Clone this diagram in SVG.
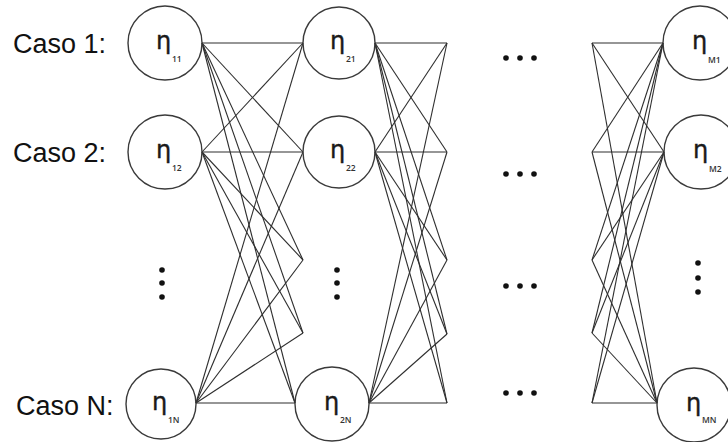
<svg xmlns="http://www.w3.org/2000/svg" width="728" height="442" viewBox="0 0 728 442">
<style>
.node{fill:none;stroke:#3a3a3a;stroke-width:1.4}
.eta{font-family:"DejaVu Sans",sans-serif;font-size:24px;fill:#1a1a1a;stroke:#1a1a1a;stroke-width:0.4}
.sub{font-family:"Open Sans","DejaVu Sans",sans-serif;font-size:8.5px;font-weight:600;fill:#333}
.lbl{font-family:"Liberation Sans",Arial,sans-serif;font-size:27px;fill:#111}
.conn line{stroke:#2e2e2e;stroke-width:1.1}
.dot{fill:#111}
</style>
<rect width="728" height="442" fill="#ffffff"/>
<g id="labels">
<text class="lbl" x="13" y="53">Caso 1:</text>
<text class="lbl" x="13" y="162">Caso 2:</text>
<text class="lbl" x="16" y="415">Caso N:</text>
</g>
<g class="conn" id="connectors">
<line x1="202" y1="43" x2="303" y2="43"/>
<line x1="202" y1="43" x2="303" y2="152"/>
<line x1="202" y1="43" x2="303" y2="260"/>
<line x1="202" y1="43" x2="303" y2="333"/>
<line x1="202" y1="43" x2="295" y2="403"/>
<line x1="202" y1="152" x2="303" y2="43"/>
<line x1="202" y1="152" x2="303" y2="152"/>
<line x1="202" y1="152" x2="303" y2="260"/>
<line x1="202" y1="152" x2="303" y2="333"/>
<line x1="202" y1="152" x2="295" y2="403"/>
<line x1="196" y1="403" x2="303" y2="43"/>
<line x1="196" y1="403" x2="303" y2="152"/>
<line x1="196" y1="403" x2="303" y2="260"/>
<line x1="196" y1="403" x2="303" y2="333"/>
<line x1="196" y1="403" x2="295" y2="403"/>
<line x1="375" y1="43" x2="447" y2="43"/>
<line x1="375" y1="43" x2="447" y2="152"/>
<line x1="375" y1="43" x2="447" y2="260"/>
<line x1="375" y1="43" x2="447" y2="334"/>
<line x1="375" y1="43" x2="447" y2="403"/>
<line x1="375" y1="152" x2="447" y2="43"/>
<line x1="375" y1="152" x2="447" y2="152"/>
<line x1="375" y1="152" x2="447" y2="260"/>
<line x1="375" y1="152" x2="447" y2="334"/>
<line x1="375" y1="152" x2="447" y2="403"/>
<line x1="369" y1="403" x2="447" y2="43"/>
<line x1="369" y1="403" x2="447" y2="152"/>
<line x1="369" y1="403" x2="447" y2="260"/>
<line x1="369" y1="403" x2="447" y2="334"/>
<line x1="369" y1="403" x2="447" y2="403"/>
<line x1="592" y1="43" x2="663" y2="43"/>
<line x1="592" y1="43" x2="664" y2="152"/>
<line x1="592" y1="43" x2="657" y2="403"/>
<line x1="592" y1="152" x2="663" y2="43"/>
<line x1="592" y1="152" x2="664" y2="152"/>
<line x1="592" y1="152" x2="657" y2="403"/>
<line x1="592" y1="260" x2="663" y2="43"/>
<line x1="592" y1="260" x2="664" y2="152"/>
<line x1="592" y1="260" x2="657" y2="403"/>
<line x1="592" y1="333" x2="663" y2="43"/>
<line x1="592" y1="333" x2="664" y2="152"/>
<line x1="592" y1="333" x2="657" y2="403"/>
<line x1="592" y1="403" x2="663" y2="43"/>
<line x1="592" y1="403" x2="664" y2="152"/>
<line x1="592" y1="403" x2="657" y2="403"/>
</g>
<g id="n11"><circle class="node" cx="165" cy="43" r="37"/><text class="eta" x="156" y="49">η</text><text class="sub" x="172" y="62">11</text></g>
<g id="n12"><circle class="node" cx="165" cy="152" r="37"/><text class="eta" x="156" y="158">η</text><text class="sub" x="172" y="171">12</text></g>
<g id="n1N"><circle class="node" cx="161" cy="404" r="35"/><text class="eta" x="152" y="410">η</text><text class="sub" x="168" y="423">1N</text></g>
<g id="n21"><circle class="node" cx="339" cy="43" r="36"/><text class="eta" x="330" y="49">η</text><text class="sub" x="346" y="62">21</text></g>
<g id="n22"><circle class="node" cx="339" cy="152" r="36"/><text class="eta" x="330" y="158">η</text><text class="sub" x="346" y="171">22</text></g>
<g id="n2N"><circle class="node" cx="332" cy="404" r="37"/><text class="eta" x="324" y="410">η</text><text class="sub" x="340" y="423">2N</text></g>
<g id="nM1"><circle class="node" cx="700" cy="43" r="37"/><text class="eta" x="692" y="49">η</text><text class="sub" x="708" y="63">M1</text></g>
<g id="nM2"><circle class="node" cx="701" cy="152" r="37"/><text class="eta" x="693" y="158">η</text><text class="sub" x="709" y="172">M2</text></g>
<g id="nMN"><circle class="node" cx="694" cy="405" r="37"/><text class="eta" x="686" y="411">η</text><text class="sub" x="702" y="423">MN</text></g>
<g id="vdots">
<circle class="dot" cx="162" cy="270" r="2.8"/><circle class="dot" cx="162" cy="283" r="2.8"/><circle class="dot" cx="162" cy="297" r="2.8"/>
<circle class="dot" cx="337" cy="270" r="2.8"/><circle class="dot" cx="337" cy="283" r="2.8"/><circle class="dot" cx="337" cy="297" r="2.8"/>
<circle class="dot" cx="698" cy="263" r="2.8"/><circle class="dot" cx="698" cy="278" r="2.8"/><circle class="dot" cx="698" cy="292" r="2.8"/>
</g>
<g id="hdots">
<circle class="dot" cx="506" cy="58" r="2.8"/><circle class="dot" cx="520" cy="58" r="2.8"/><circle class="dot" cx="534" cy="58" r="2.8"/>
<circle class="dot" cx="506" cy="174" r="2.8"/><circle class="dot" cx="520" cy="174" r="2.8"/><circle class="dot" cx="534" cy="174" r="2.8"/>
<circle class="dot" cx="506" cy="286" r="2.8"/><circle class="dot" cx="520" cy="286" r="2.8"/><circle class="dot" cx="534" cy="286" r="2.8"/>
<circle class="dot" cx="506" cy="393" r="2.8"/><circle class="dot" cx="520" cy="393" r="2.8"/><circle class="dot" cx="534" cy="393" r="2.8"/>
</g>
</svg>
